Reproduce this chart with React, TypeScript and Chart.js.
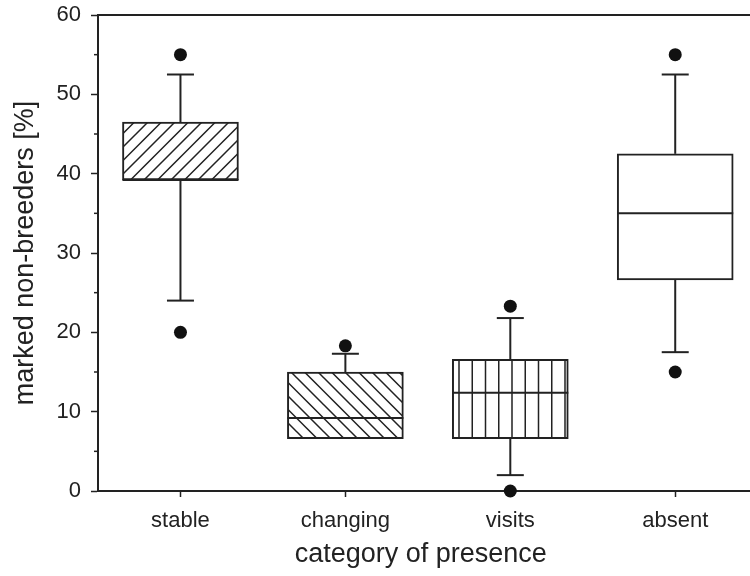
import React, { useEffect, useRef } from 'react';
import { Chart, registerables } from 'chart.js';

Chart.register(...registerables);

const categories = ['stable', 'changing', 'visits', 'absent'];
const whiskerLow = [24, 6.6, 2, 17.5];
const q1 = [39.2, 6.6, 6.6, 26.6];
const median = [39.2, 9.2, 12.4, 35];
const q3 = [46.5, 15, 16.6, 42.5];
const whiskerHigh = [52.5, 17.3, 21.8, 52.5];
const outlierCategory = [0, 0, 1, 2, 2, 3, 3];
const outlierValue = [55, 20, 18.3, 23.3, 0, 55, 15];
const yTicks = [0, 10, 20, 30, 40, 50, 60];
const yMinorTicks = [5, 15, 25, 35, 45, 55];
const hatchKinds = ['diagUp', 'diagDown', 'vertical', 'none'];

const FONT = '"Liberation Sans", Arial, Helvetica, sans-serif';
const INK = '#222222';

function makePattern(kind: string): CanvasPattern | string {
  if (kind === 'none') return '#ffffff';
  const size = kind === 'vertical' ? 53 : 27;
  const c = document.createElement('canvas');
  c.width = size;
  c.height = size;
  const g = c.getContext('2d')!;
  g.fillStyle = '#ffffff';
  g.fillRect(0, 0, size, size);
  g.strokeStyle = INK;
  g.lineWidth = 1.5;
  g.beginPath();
  if (kind === 'vertical') {
    const step = size / 4;
    for (let k = 0; k < 4; k++) {
      const xx = (35 + k * step) % size;
      g.moveTo(xx, 0);
      g.lineTo(xx, size);
    }
  } else {
    const step = size / 2;
    for (let c0 = -size; c0 <= 2 * size; c0 += step) {
      if (kind === 'diagUp') {
        g.moveTo(c0 + 2, -2);
        g.lineTo(c0 - size - 2, size + 2);
      } else {
        g.moveTo(c0 - 2, -2);
        g.lineTo(c0 + size + 2, size + 2);
      }
    }
  }
  g.stroke();
  const ctx = document.createElement('canvas').getContext('2d')!;
  return ctx.createPattern(c, 'repeat')!;
}

const boxExtras = {
  id: 'boxExtras',
  afterDatasetsDraw(chart: any) {
    const { ctx, scales, chartArea } = chart;
    const x = scales.x;
    const y = scales.y;
    const meta = chart.getDatasetMeta(0);
    ctx.save();
    ctx.strokeStyle = INK;
    ctx.lineWidth = 2;
    const capHalf = 13.5;
    const seg = (x1: number, y1: number, x2: number, y2: number) => {
      ctx.beginPath();
      ctx.moveTo(x1, y1);
      ctx.lineTo(x2, y2);
      ctx.stroke();
    };
    categories.forEach((_, i) => {
      const cx = x.getPixelForValue(i);
      const bar = meta.data[i];
      const half = bar ? bar.width / 2 : 58;
      if (whiskerHigh[i] > q3[i]) {
        const top = y.getPixelForValue(whiskerHigh[i]);
        seg(cx, y.getPixelForValue(q3[i]), cx, top);
        seg(cx - capHalf, top, cx + capHalf, top);
      }
      if (whiskerLow[i] < q1[i]) {
        const bot = y.getPixelForValue(whiskerLow[i]);
        seg(cx, y.getPixelForValue(q1[i]), cx, bot);
        seg(cx - capHalf, bot, cx + capHalf, bot);
      }
      const my = y.getPixelForValue(median[i]);
      seg(cx - half, my, cx + half, my);
    });
    // top frame line and continuation of the bottom axis to the edge
    seg(chartArea.left, chartArea.top, chart.width, chartArea.top);
    seg(chartArea.right - 1, chartArea.bottom, chart.width, chartArea.bottom);
    // minor ticks on y axis
    ctx.lineWidth = 1.5;
    yMinorTicks.forEach((v) => {
      const py = y.getPixelForValue(v);
      seg(chartArea.left - 4, py, chartArea.left, py);
    });
    ctx.restore();
  },
};

export default function App() {
  const ref = useRef<HTMLCanvasElement>(null);
  useEffect(() => {
    if (!ref.current) return;
    const patterns = hatchKinds.map((k) => makePattern(k));
    const chart = new Chart(ref.current, {
      type: 'bar',
      data: {
        datasets: [
          {
            type: 'bar',
            data: categories.map((_, i) => ({ x: i, y: [q1[i], q3[i]] })) as any,
            backgroundColor: patterns as any,
            borderColor: INK,
            borderWidth: 2,
            borderSkipped: false,
            barThickness: 116,
          } as any,
          {
            type: 'scatter',
            data: outlierCategory.map((c, i) => ({ x: c, y: outlierValue[i] })),
            pointRadius: 6.5,
            pointBackgroundColor: '#111111',
            pointBorderWidth: 0,
            showLine: false,
            clip: false,
          } as any,
        ],
      },
      options: {
        responsive: false,
        animation: false,
        layout: { padding: { top: 15, right: 0, left: 0, bottom: 0 } },
        plugins: { legend: { display: false }, tooltip: { enabled: false } },
        scales: {
          x: {
            type: 'linear',
            min: -0.5,
            max: 3.414,
            offset: false,
            afterBuildTicks: (s: any) => {
              s.ticks = categories.map((_, i) => ({ value: i }));
            },
            afterFit: (s: any) => {
              s.height = 85;
              s.paddingLeft = 0;
              s.paddingRight = 0;
            },
            ticks: {
              callback: (v: any) => categories[v] ?? '',
              font: { family: FONT, size: 22 },
              color: INK,
              padding: 11,
              maxRotation: 0,
              autoSkip: false,
            },
            grid: {
              display: true,
              drawOnChartArea: false,
              drawTicks: true,
              tickLength: 6,
              tickColor: INK,
              tickWidth: 1.5,
              offset: false,
            },
            border: { display: true, color: INK, width: 2 },
            title: {
              display: true,
              text: 'category of presence',
              font: { family: FONT, size: 27 },
              color: INK,
              padding: { top: 0, bottom: 5 },
            },
          } as any,
          y: {
            type: 'linear',
            min: 0,
            max: 60,
            afterBuildTicks: (s: any) => {
              s.ticks = yTicks.map((v) => ({ value: v }));
            },
            afterFit: (s: any) => {
              s.width = 98;
              s.paddingTop = 0;
              s.paddingBottom = 0;
            },
            ticks: {
              font: { family: FONT, size: 22 },
              color: INK,
              padding: 10,
            },
            grid: {
              display: true,
              drawOnChartArea: false,
              drawTicks: true,
              tickLength: 7,
              tickColor: INK,
              tickWidth: 1.5,
            },
            border: { display: true, color: INK, width: 2 },
            title: {
              display: true,
              text: 'marked non-breeders [%]',
              font: { family: FONT, size: 27 },
              color: INK,
              padding: { top: 9, bottom: 0 },
            },
          } as any,
        },
      },
      plugins: [boxExtras],
    });
    return () => chart.destroy();
  }, []);
  return (
    <div style={{ position: 'fixed', left: 0, top: 0, width: 750, height: 576, background: '#fff' }}>
      <canvas ref={ref} width={750} height={576} style={{ display: 'block' }} />
    </div>
  );
}
